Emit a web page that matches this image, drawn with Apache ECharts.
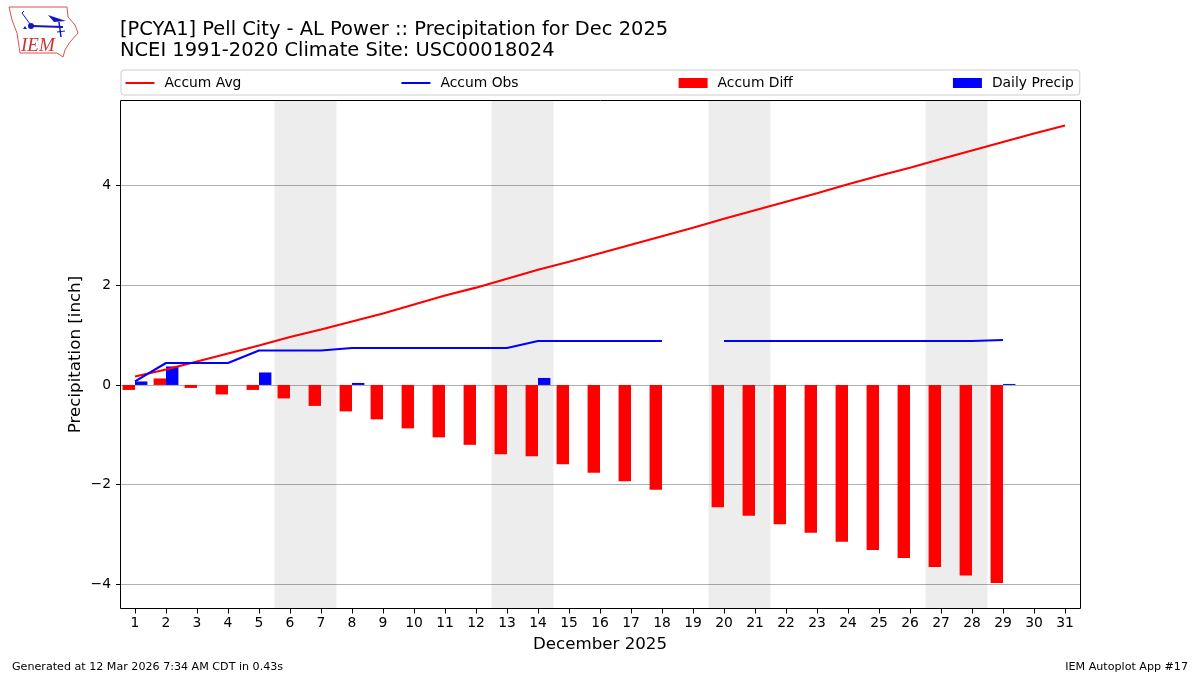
<!DOCTYPE html>
<html>
<head>
<meta charset="utf-8">
<style>html,body{margin:0;padding:0;background:#fff}#c{width:1200px;height:675px}</style>
<script src="https://cdn.jsdelivr.net/npm/echarts@6/dist/echarts.min.js"></script>
</head>
<body>
<div id="c"></div>
<script>
const days = ['1','2','3','4','5','6','7','8','9','10','11','12','13','14','15','16','17','18','19','20','21','22','23','24','25','26','27','28','29','30','31'];
const accumAvg = [0.17,0.31,0.47,0.63,0.79,0.96,1.11,1.27,1.43,1.61,1.79,1.95,2.13,2.31,2.47,2.64,2.81,2.98,3.15,3.33,3.50,3.67,3.84,4.02,4.19,4.35,4.53,4.70,4.87,5.04,5.20];
const accumObs = [0.07,0.44,0.44,0.44,0.69,0.69,0.69,0.74,0.74,0.74,0.74,0.74,0.74,0.88,0.88,0.88,0.88,0.88,null,0.88,0.88,0.88,0.88,0.88,0.88,0.88,0.88,0.88,0.90,null,null];
const accumDiff = [-0.10,0.13,-0.06,-0.19,-0.10,-0.27,-0.42,-0.53,-0.69,-0.87,-1.05,-1.20,-1.39,-1.43,-1.59,-1.76,-1.93,-2.10,null,-2.45,-2.62,-2.79,-2.96,-3.14,-3.31,-3.47,-3.65,-3.82,-3.97,null,null];
const dailyPrecip = [0.07,0.37,0,0,0.25,0,0,0.04,0,0,0,0,0,0.14,0,0,0,0,null,0,0,0,0,0,0,0,0,0,0.02,null,null];
const weekendSpans = [[5.5,7.5],[12.5,14.5],[19.5,21.5],[26.5,28.5]];
const yTicks = [-4,-2,0,2,4];
const titleText = '[PCYA1] Pell City - AL Power :: Precipitation for Dec 2025\nNCEI 1991-2020 Climate Site: USC00018024';

const FONT = '"DejaVu Sans"';
const LINE_ICON = 'path://M0,0L0,0ZM0,4H29V6H0ZM29,10L29,10Z';
const BLUE = '#1414c8', LOGO_RED = '#d9534f';
const chart = echarts.init(document.getElementById('c'), null, {renderer:'canvas'});
chart.setOption({
  animation:false,
  textStyle:{fontFamily:FONT,color:'#000'},
  title:{text:titleText,left:115,top:14,textStyle:{fontFamily:FONT,fontSize:19.44,fontWeight:'normal',color:'#000',lineHeight:21}},
  legend:{
    left:121,top:70,width:958,padding:[6,6,5,4.5],itemGap:160,itemWidth:29,itemHeight:10,
    backgroundColor:'#fff',borderColor:'#ccc',borderWidth:1,borderRadius:3,
    textStyle:{fontFamily:FONT,fontSize:13.89,color:'#000',padding:[0,0,0,5]},
    data:[{name:'Accum Avg',icon:LINE_ICON},{name:'Accum Obs',icon:LINE_ICON},{name:'Accum Diff',icon:'rect'},{name:'Daily Precip',icon:'rect'}]
  },
  grid:{left:119.5,right:119.5,top:100.5,bottom:66.5,containLabel:false,show:false},
  xAxis:[{
    type:'category',data:days,position:'bottom',
    name:'December 2025',nameLocation:'middle',nameGap:28,nameTextStyle:{fontFamily:FONT,fontSize:16.67,color:'#000'},
    axisLine:{show:false,onZero:false},
    axisTick:{show:true,alignWithLabel:true,length:5,lineStyle:{color:'#000'}},
    axisLabel:{interval:0,margin:8,fontFamily:FONT,fontSize:13.89,color:'#000'},
    splitLine:{show:false}
  },{
    type:'value',min:0.5,max:31.5,show:false,splitLine:{show:false}
  }],
  yAxis:{
    type:'value',min:-4.48,max:5.7,offset:-1.5,
    name:'Precipitation [inch]',nameLocation:'middle',nameGap:37,nameMoveOverlap:false,nameTextStyle:{fontFamily:FONT,fontSize:16.67,color:'#000'},
    axisLine:{show:false},
    axisTick:{show:true,length:5,lineStyle:{color:'#000'},customValues:yTicks},
    axisLabel:{margin:10,fontFamily:FONT,fontSize:13.89,color:'#000',customValues:yTicks,padding:[1,0,0,0],
      formatter:v=>String(v).replace('-','\u2212')},
    splitLine:{show:true,lineStyle:{color:'#b0b0b0',width:1}}
  },
  series:[
    {name:'weekend',type:'line',xAxisIndex:1,data:[],z:1,silent:true,
     markArea:{silent:true,itemStyle:{color:'rgba(0,0,0,0.07)'},
       data:weekendSpans.map(s=>[{xAxis:s[0]},{xAxis:s[1]}])}},
    {name:'Accum Diff',type:'bar',data:accumDiff,barWidth:12.4,barGap:0,itemStyle:{color:'#ff0000'},z:2},
    {name:'Daily Precip',type:'bar',data:dailyPrecip,barWidth:12.4,barGap:0,itemStyle:{color:'#0000ff'},z:2},
    {name:'Accum Avg',type:'line',data:accumAvg,symbol:'none',lineStyle:{color:'#ff0000',width:2.08},itemStyle:{color:'#ff0000'},z:3},
    {name:'Accum Obs',type:'line',data:accumObs,symbol:'none',connectNulls:false,lineStyle:{color:'#0000ff',width:2.08},itemStyle:{color:'#0000ff'},z:3}
  ],
  graphic:[
    {type:'rect',z:100,shape:{x:120.5,y:100.5,width:960,height:508},style:{fill:null,stroke:'#000',lineWidth:1}},
    {type:'polygon',shape:{points:[[9,7],[67,7],[68,17],[75,25],[78,33],[70,42],[65,50],[63,57],[57,53],[20,53],[17,33],[12,20]]},style:{fill:'#fff',stroke:LOGO_RED,lineWidth:1}},
    {type:'polyline',shape:{points:[[32,26],[63,27]]},style:{stroke:BLUE,lineWidth:2,fill:null}},
    {type:'circle',shape:{cx:31,cy:26,r:3},style:{fill:BLUE}},
    {type:'polyline',shape:{points:[[30,24],[22,13],[24,11]]},style:{stroke:BLUE,lineWidth:1,fill:null}},
    {type:'polygon',shape:{points:[[48,15],[54,17],[66,21],[54,22]]},style:{fill:BLUE}},
    {type:'polyline',shape:{points:[[59,22],[61,37]]},style:{stroke:BLUE,lineWidth:1.5,fill:null}},
    {type:'polyline',shape:{points:[[57,32],[65,31]]},style:{stroke:BLUE,lineWidth:1,fill:null}},
    {type:'polygon',shape:{points:[[23,29],[25,26],[27,29]]},style:{fill:BLUE}},
    {type:'text',left:21,top:36,style:{text:'IEM',font:'italic 19px "Liberation Serif"',fill:'#cc3333'}},
    {type:'text',left:12,top:662,style:{text:'Generated at 12 Mar 2026 7:34 AM CDT in 0.43s',font:'11.11px "DejaVu Sans"',fill:'#000'}},
    {type:'text',right:12,top:662,style:{text:'IEM Autoplot App #17',font:'11.11px "DejaVu Sans"',fill:'#000'}}
  ]
});
</script>
</body>
</html>
